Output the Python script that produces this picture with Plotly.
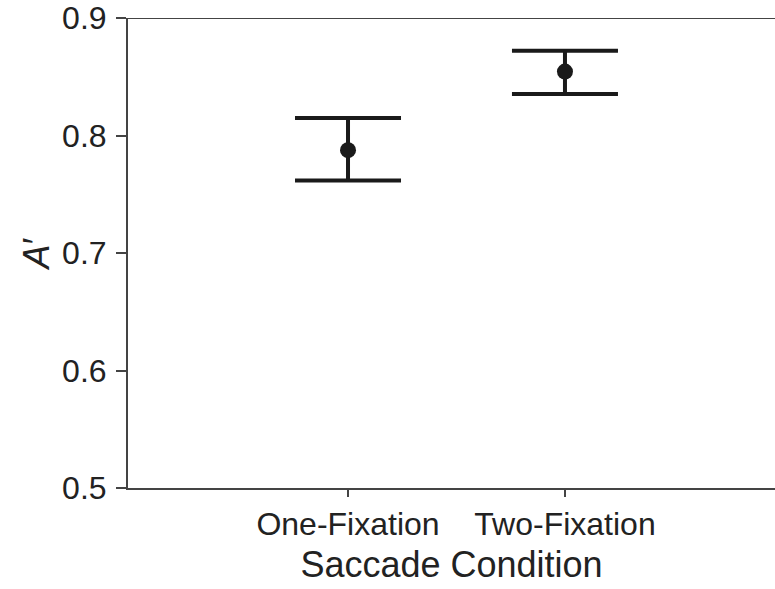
import plotly.graph_objects as go

categories = ["One-Fixation", "Two-Fixation"]
x_pos = [1, 2]
means = [0.7875, 0.8544]
upper = [0.8148, 0.8722]
lower = [0.7617, 0.8354]
y_ticks = [0.5, 0.6, 0.7, 0.8, 0.9]

err_plus = [u - m for u, m in zip(upper, means)]
err_minus = [m - l for m, l in zip(means, lower)]

fig = go.Figure()
fig.add_trace(go.Scatter(
    x=x_pos, y=means, mode="markers",
    marker=dict(size=16, color="#1a1a1a"),
    error_y=dict(type="data", symmetric=False, array=err_plus, arrayminus=err_minus,
                 color="#1a1a1a", thickness=4, width=53),
    showlegend=False,
))

fig.add_shape(type="line", xref="paper", yref="y", x0=0, x1=1, y0=0.9, y1=0.9,
              line=dict(color="#444", width=2))

font = "Liberation Sans, Arial, sans-serif"
fig.update_layout(
    width=775, height=589,
    margin=dict(l=128, r=0, t=18, b=101),
    paper_bgcolor="white", plot_bgcolor="white",
    font=dict(family=font, color="#222"),
    xaxis=dict(range=[-0.014, 2.968], tickvals=x_pos, ticktext=categories,
               showline=True, linecolor="#444", linewidth=2,
               ticks="outside", ticklen=7, tickwidth=1.5, tickcolor="#444",
               showgrid=False, zeroline=False, tickfont=dict(size=32),
               title=dict(text="Saccade Condition", font=dict(size=36), standoff=10)),
    yaxis=dict(range=[0.5, 0.9], tickvals=y_ticks, tickformat=".1f",
               showline=True, linecolor="#444", linewidth=2,
               ticks="outside", ticklen=10, tickwidth=2, tickcolor="#444",
               ticklabelstandoff=3,
               showgrid=False, zeroline=False, tickfont=dict(size=32),
               title=dict(text="<i>A</i>′", font=dict(size=36), standoff=2)),
)

fig.write_html("out.html")
